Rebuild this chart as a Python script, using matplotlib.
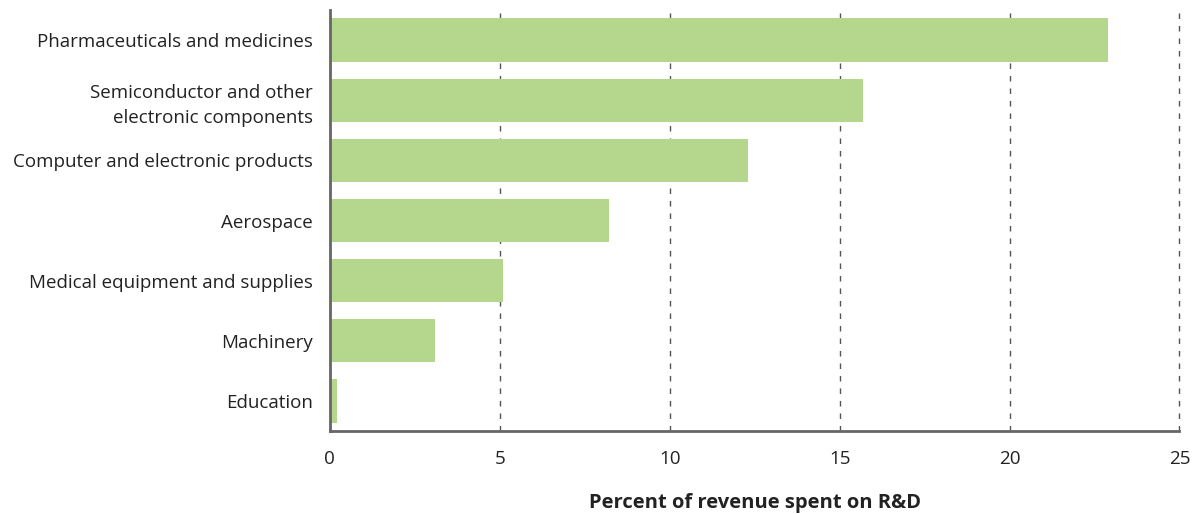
import matplotlib.pyplot as plt

categorias = ["Pharmaceuticals and medicines",
              "Semiconductor and other\nelectronic components",
              "Computer and electronic products",
              "Aerospace",
              "Medical equipment and supplies",
              "Machinery",
              "Education"]
porcentajes = [22.9, 15.7, 12.3, 8.2, 5.1, 3.1, 0.2]
ticks_x = [0, 5, 10, 15, 20, 25]

plt.rcParams['font.family'] = ['Open Sans', 'DejaVu Sans']

fig = plt.figure(figsize=(11.95, 5.14), dpi=100)
ax = fig.add_axes([0.276, 0.1615, 0.711, 0.819])

ax.barh(range(len(categorias)), porcentajes, height=0.72, color="#b5d78d", zorder=2)
ax.set_ylim(6.5, -0.5)
ax.set_xlim(0, 25)
ax.set_yticks(range(len(categorias)))
ax.set_yticklabels(categorias, fontsize=13.5, color="#222222", linespacing=1.45)
ax.set_xticks(ticks_x)
ax.set_xticklabels([str(t) for t in ticks_x], fontsize=13.6, color="#222222")
ax.tick_params(axis="both", length=0)
ax.tick_params(axis="x", pad=14)
ax.tick_params(axis="y", pad=12)

for t in ticks_x[1:]:
    ax.axvline(t, color="#555555", linestyle=(0, (4, 5)), linewidth=1, zorder=1, clip_on=False)

for lado in ["top", "right"]:
    ax.spines[lado].set_visible(False)
for lado in ["left", "bottom"]:
    ax.spines[lado].set_color("#666666")
    ax.spines[lado].set_linewidth(2)

ax.set_xlabel("Percent of revenue spent on R&D", fontsize=14.5, fontweight="bold",
              color="#222222", labelpad=18)

fig.savefig("out.png", dpi=100)
